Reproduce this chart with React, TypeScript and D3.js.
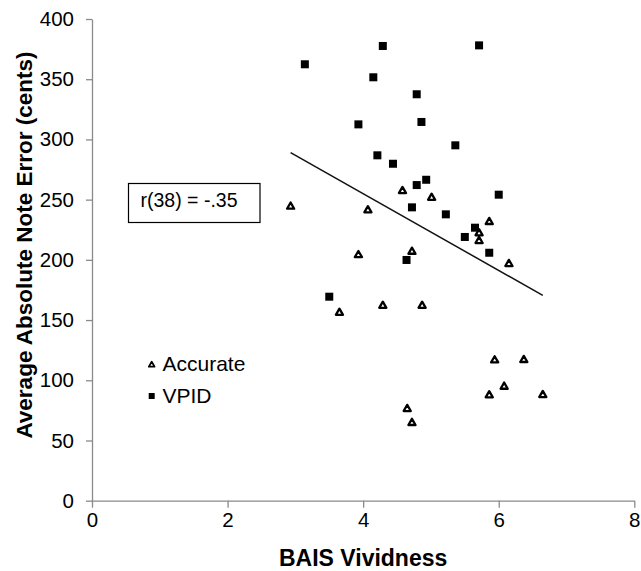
import React, { useEffect, useRef } from 'react';
import * as d3 from 'd3';

// BAIS vividness vs average absolute note error, two groups
const accurateX = [2.93, 4.58, 4.07, 5.01, 5.86, 5.71, 5.71, 3.93, 4.72, 6.15, 3.65, 4.29, 4.87, 5.94, 6.37, 6.08, 5.86, 6.65, 4.65, 4.72];
const accurateY = [245, 258, 242, 252.4, 232.3, 222.9, 216.5, 204.8, 207.6, 197.4, 156.9, 162.7, 162.7, 117.4, 117.7, 95.5, 88.4, 88.6, 77, 65.4];

const vpidX = [3.14, 4.29, 5.71, 4.15, 4.79, 3.93, 4.86, 5.36, 4.21, 4.44, 4.93, 4.79, 6.0, 4.72, 5.22, 5.65, 5.5, 5.86, 4.64, 3.5];
const vpidY = [362.4, 377.6, 378.1, 351.6, 337.5, 312.5, 314.5, 295.1, 286.8, 279.8, 266.5, 262.1, 254.1, 243.6, 237.8, 226.7, 219, 205.9, 199.9, 169.4];

// fitted line endpoints
const trendX = [2.93, 6.65];
const trendY = [289, 170.5];

const xTicks = [0, 2, 4, 6, 8];
const yTicks = [0, 50, 100, 150, 200, 250, 300, 350, 400];

const FONT = '"Liberation Sans", Arial, sans-serif';

const App = () => {
    const svgRef = useRef(null);

    useEffect(() => {
        document.body.style.margin = '0';
        const svg = d3.select(svgRef.current);
        svg.selectAll('*').remove();

        const x = d3.scaleLinear().domain([0, 8]).range([92, 634.3]);
        const y = d3.scaleLinear().domain([0, 400]).range([500.7, 19]);
        const axisColor = '#8a8a8a';

        // axes
        const gx = svg.append('g')
            .attr('transform', `translate(0,${y(0)})`)
            .call(d3.axisBottom(x).tickValues(xTicks).tickSize(7).tickSizeOuter(0).tickPadding(5));
        const gy = svg.append('g')
            .attr('transform', `translate(${x(0)},0)`)
            .call(d3.axisLeft(y).tickValues(yTicks).tickSize(6).tickSizeOuter(0).tickPadding(12));

        [gx, gy].forEach(g => {
            g.select('.domain').attr('stroke', axisColor).attr('stroke-width', 1.3);
            g.selectAll('.tick line').attr('stroke', axisColor).attr('stroke-width', 1.3);
            g.selectAll('.tick text')
                .attr('fill', '#000')
                .style('font-family', FONT)
                .style('font-size', '20.5px');
        });

        // axis titles
        svg.append('text')
            .text('BAIS Vividness')
            .attr('x', x(4))
            .attr('y', 566)
            .attr('text-anchor', 'middle')
            .style('font-family', FONT)
            .style('font-size', '23px')
            .style('font-weight', 'bold');

        svg.append('text')
            .text('Average Absolute Note Error (cents)')
            .attr('transform', 'translate(32,245) rotate(-90)')
            .attr('text-anchor', 'middle')
            .style('font-family', FONT)
            .style('font-size', '22.5px')
            .style('font-weight', 'bold');

        // regression line
        svg.append('line')
            .attr('x1', x(trendX[0]))
            .attr('y1', y(trendY[0]))
            .attr('x2', x(trendX[1]))
            .attr('y2', y(trendY[1]))
            .attr('stroke', '#111')
            .attr('stroke-width', 1.5);

        const tri = d3.symbol().type(d3.symbolTriangle).size(22);
        const sq = 8;

        // VPID squares
        svg.append('g')
            .selectAll('rect')
            .data(vpidX.map((v, i) => [v, vpidY[i]]))
            .join('rect')
            .attr('x', d => x(d[0]) - sq / 2)
            .attr('y', d => y(d[1]) - sq / 2)
            .attr('width', sq)
            .attr('height', sq)
            .attr('fill', '#000');

        // Accurate triangles
        svg.append('g')
            .selectAll('path')
            .data(accurateX.map((v, i) => [v, accurateY[i]]))
            .join('path')
            .attr('d', tri)
            .attr('transform', d => `translate(${x(d[0])},${y(d[1]) + 1})`)
            .attr('fill', '#fff')
            .attr('stroke', '#000')
            .attr('stroke-width', 2.3)
            .attr('stroke-linejoin', 'round');

        // r annotation
        svg.append('rect')
            .attr('x', 128.5)
            .attr('y', 183.5)
            .attr('width', 131.5)
            .attr('height', 39)
            .attr('fill', '#fff')
            .attr('stroke', '#000')
            .attr('stroke-width', 1.2);
        svg.append('text')
            .text('r(38) = -.35')
            .attr('x', 140.5)
            .attr('y', 206.5)
            .style('font-family', FONT)
            .style('font-size', '19.5px');

        // legend
        const legend = svg.append('g');
        legend.append('path')
            .attr('d', d3.symbol().type(d3.symbolTriangle).size(14)())
            .attr('transform', 'translate(151.7,365)')
            .attr('fill', '#fff')
            .attr('stroke', '#000')
            .attr('stroke-width', 1.8)
            .attr('stroke-linejoin', 'round');
        legend.append('text')
            .text('Accurate')
            .attr('x', 162.5)
            .attr('y', 371)
            .style('font-family', FONT)
            .style('font-size', '21px');
        legend.append('rect')
            .attr('x', 148.7)
            .attr('y', 393)
            .attr('width', 6)
            .attr('height', 6)
            .attr('fill', '#000');
        legend.append('text')
            .text('VPID')
            .attr('x', 162.5)
            .attr('y', 403)
            .style('font-family', FONT)
            .style('font-size', '21px');
    }, []);

    return (
        <svg ref={svgRef} width={641} height={571}
            style={{ position: 'absolute', left: 0, top: 0, background: '#fff', display: 'block' }} />
    );
};

export default App;
